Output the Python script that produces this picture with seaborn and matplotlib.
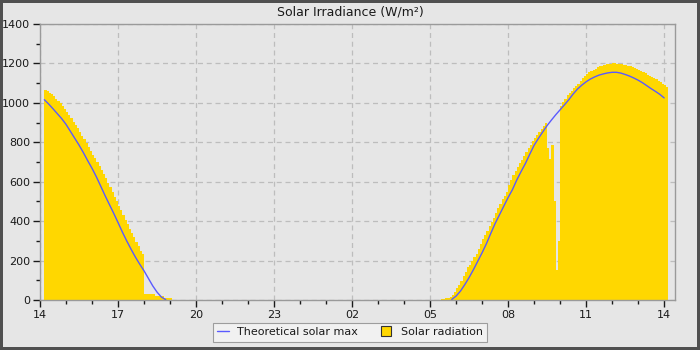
import pandas as pd
import matplotlib
matplotlib.use("Agg")
import matplotlib.pyplot as plt
import matplotlib.dates as mdates
from matplotlib.lines import Line2D
from matplotlib.ticker import MultipleLocator
import seaborn as sns

TITLE = "Solar Irradiance (W/m²)"
SERIES_NAMES = ["Theoretical solar max", "Solar radiation"]

# Measured solar radiation (W/m²), 5-minute samples
rad_pm_start = "2024-06-01 14:10"
rad_pm = [
    1065, 1060, 1052, 1045, 1035, 1022, 1010, 998, 985, 970,
    955, 938, 922, 905, 888, 870, 850, 833, 815, 795, 775, 757,
    738, 720, 700, 680, 660, 640, 618, 595, 572, 548, 525, 502,
    478, 455, 432, 408, 385, 362, 340, 318, 295, 272, 250, 232,
    32, 31, 30, 30, 28, 20, 20, 19, 18, 12, 12, 10,
    8,
]
rad_am_start = "2024-06-02 05:25"
rad_am = [
    5, 5, 8, 10, 15, 25, 40,
    60, 78, 95, 120, 140, 165, 180, 200, 220, 235, 260, 285,
    308, 330, 352, 375, 396, 418, 442, 465, 485, 510, 530, 550,
    585, 610, 632, 655, 675, 693, 712, 730, 750, 770, 788, 805,
    822, 838, 852, 868, 882, 898, 770, 715, 785, 500, 150, 300,
    985, 1005, 1022, 1038, 1050, 1062, 1073, 1083, 1097, 1110, 1124, 1136,
    1148, 1157, 1163, 1169, 1174, 1180, 1185, 1189, 1193, 1196, 1198, 1199,
    1200, 1200, 1199, 1198, 1196, 1194, 1191, 1189, 1186, 1182, 1178, 1173,
    1167, 1161, 1155, 1149, 1143, 1137, 1131, 1126, 1120, 1113, 1104, 1097,
    1090, 1082,
]

# Theoretical clear-sky maximum (W/m²), 10-minute samples
max_pm_start = "2024-06-01 14:10"
max_pm = [
    1016, 994, 970, 945, 920,
    891, 856, 821, 786, 748, 707,
    668, 625, 578, 530, 485, 440,
    393, 345, 300, 258, 218, 182,
    148, 110, 72, 40, 15, 2,
]
max_am_start = "2024-06-02 05:50"
max_am = [
    3, 20, 45, 78, 114, 154, 197,
    240, 286, 338, 388, 432, 476,
    520, 560, 609, 652, 693, 740,
    785, 820, 853, 885, 913, 940,
    965, 990, 1016, 1045, 1070, 1090,
    1107, 1121, 1132, 1141, 1147, 1152,
    1155, 1155, 1151, 1144, 1136, 1126,
    1115, 1102, 1087, 1072, 1058, 1043,
    1025,
]

y_ticks = [0, 200, 400, 600, 800, 1000, 1200, 1400]
x_start, x_end = "2024-06-01 14:00", "2024-06-02 14:25"

BG = "#e6e6e6"
GOLD = "#ffd700"
BLUE = "#5a5aff"

sns.set_theme(style="white")
plt.rcParams.update({
    "font.family": ["DejaVu Sans"],
    "axes.facecolor": BG,
    "figure.facecolor": BG,
    "axes.edgecolor": "#9a9a9a",
    "text.color": "#1a1a1a",
    "xtick.color": "#1a1a1a",
    "ytick.color": "#1a1a1a",
})

fig, ax = plt.subplots(figsize=(7, 3.5), dpi=100)
fig.subplots_adjust(left=40 / 700, right=675 / 700, top=1 - 24 / 350, bottom=1 - 300 / 350)
fig.patch.set_edgecolor("#505050")
fig.patch.set_linewidth(3)


def radiation_area(start, values):
    t = pd.date_range(start, periods=len(values) + 1, freq="5min")
    y = list(values) + [values[-1]]
    ax.fill_between(t, 0, y, step="post", color=GOLD, linewidth=0, zorder=2)


def model_line(start, values):
    df = pd.DataFrame({
        "time": pd.date_range(start, periods=len(values), freq="10min"),
        "value": values,
    })
    sns.lineplot(data=df, x="time", y="value", ax=ax, color=BLUE, linewidth=1, zorder=3)


radiation_area(rad_pm_start, rad_pm)
radiation_area(rad_am_start, rad_am)
model_line(max_pm_start, max_pm)
model_line(max_am_start, max_am)

ax.set_xlim(pd.Timestamp(x_start), pd.Timestamp(x_end))
ax.set_ylim(y_ticks[0], y_ticks[-1])
ax.set_yticks(y_ticks)
ax.yaxis.set_minor_locator(MultipleLocator(100))
ax.xaxis.set_major_locator(mdates.HourLocator(byhour=range(2, 24, 3)))
ax.xaxis.set_minor_locator(mdates.HourLocator())
ax.xaxis.set_major_formatter(mdates.DateFormatter("%H"))
ax.set_xlabel("")
ax.set_ylabel("")

ax.tick_params(axis="both", which="major", direction="out", length=5, width=1, labelsize=8, pad=2,
               bottom=True, left=True)
ax.tick_params(axis="both", which="minor", direction="out", length=3, width=1,
               bottom=True, left=True)
ax.grid(True, which="major", color="#bdbdbd", linestyle=(0, (4, 3)), linewidth=0.9, zorder=0)
ax.set_axisbelow(True)
for s in ax.spines.values():
    s.set_color("#9a9a9a")
    s.set_linewidth(1)

fig.text(0.5, 1 - 12 / 350, TITLE, fontsize=9, ha="center", va="center")

handles = [
    Line2D([], [], color=BLUE, linewidth=1),
    Line2D([], [], linestyle="none", marker="s", markersize=7,
           markerfacecolor=GOLD, markeredgecolor="#333333", markeredgewidth=0.8),
]
leg = fig.legend(handles, SERIES_NAMES, loc="lower center", bbox_to_anchor=(0.5, 0.008),
                 ncol=2, fontsize=8, frameon=True, fancybox=False, handlelength=1.0,
                 handletextpad=0.8, columnspacing=2.0, borderpad=0.4)
leg.get_frame().set_facecolor("#f4f4f4")
leg.get_frame().set_edgecolor("#8a8a8a")
leg.get_frame().set_linewidth(0.8)

fig.savefig("out.png", dpi=100, facecolor=BG, edgecolor=fig.get_edgecolor())
